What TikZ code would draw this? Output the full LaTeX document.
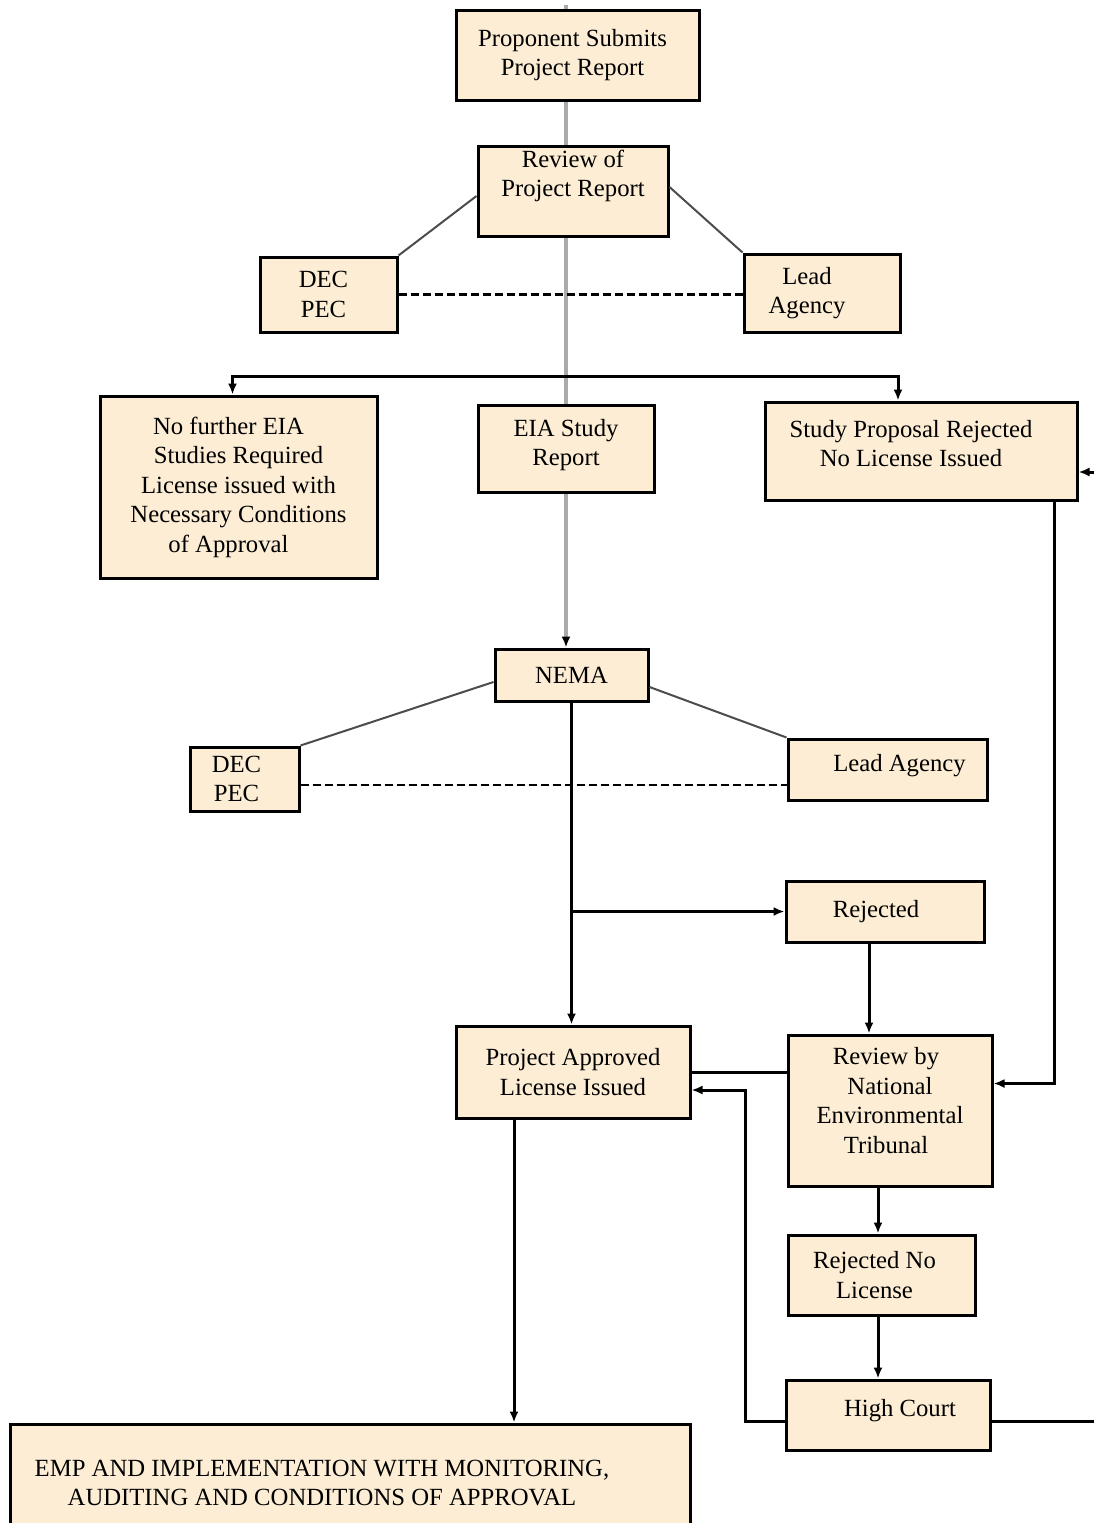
\documentclass[tikz,border=0pt]{standalone}
\usepackage{fontspec}
\setmainfont{Liberation Serif}
\usetikzlibrary{arrows.meta}
\definecolor{boxfill}{RGB}{252,237,212}
\definecolor{trunkgray}{RGB}{170,170,170}

\begin{document}
\begin{tikzpicture}[x=1pt,y=-1pt,
    procbox/.style={draw=black,line width=3pt,fill=boxfill,inner sep=0pt,align=center,
      font=\fontsize{24.7}{29.5}\selectfont},
    flow/.style={line width=3pt,-{Latex[length=11pt,width=9pt]}},
    plain/.style={line width=3pt},
    trunk/.style={draw=trunkgray,line width=4.5pt},
    link/.style={draw=black!70,line width=2pt},
    dashlink/.style={line width=2.5pt,dash pattern=on 8pt off 4pt}]

  \useasboundingbox (0,0) rectangle (1094,1523);

  % boxes
  \node[procbox,minimum width=243pt,minimum height=90pt] (prop) at (577.5,55) {Proponent Submits\hspace*{10pt}\\Project Report\hspace*{10pt}};
  \node[procbox,minimum width=190pt,minimum height=90pt,text depth=35pt] (rev) at (573,191) {Review of\\Project Report};
  \node[procbox,minimum width=137pt,minimum height=75pt] (dectop) at (328.5,294.5) {DEC\hspace*{10pt}\\PEC\hspace*{10pt}};
  \node[procbox,minimum width=156pt,minimum height=78pt] (leadtop) at (822,293) {Lead\hspace*{30pt}\\Agency\hspace*{30pt}};

  \node[procbox,minimum width=277pt,minimum height=182pt] (nofurther) at (238.5,487) {No further EIA\hspace*{20pt}\\Studies Required\hspace*{20pt}\\License issued with\hspace*{20pt}\\Necessary Conditions\hspace*{20pt}\\of Approval\hspace*{20pt}};
  \node[procbox,minimum width=176pt,minimum height=87pt,text depth=12pt] (eia) at (566,448.5) {EIA Study\\Report};
  \node[procbox,minimum width=312pt,minimum height=98pt,text depth=15pt] (study) at (921,451) {Study Proposal Rejected\hspace*{20pt}\\No License Issued\hspace*{20pt}};

  \node[procbox,minimum width=153pt,minimum height=52pt] (nema) at (571.5,675) {NEMA};
  \node[procbox,minimum width=109pt,minimum height=64pt] (decb) at (244.5,779) {DEC\hspace*{16pt}\\PEC\hspace*{16pt}};
  \node[procbox,minimum width=199pt,minimum height=61pt,text depth=13pt] (leadb) at (887.5,769.5) {\hspace*{24pt}Lead Agency};
  \node[procbox,minimum width=198pt,minimum height=61pt] (rejected) at (885,911.5) {Rejected\hspace*{18pt}};

  \node[procbox,minimum width=234pt,minimum height=92pt] (approved) at (573,1072) {Project Approved\\License Issued};
  \node[procbox,minimum width=204pt,minimum height=151pt,text depth=20pt] (net) at (890,1110.5) {Review by\hspace*{8pt}\\National\hspace*{8pt}\\Environmental\hspace*{8pt}\\Tribunal\hspace*{8pt}};
  \node[procbox,minimum width=187pt,minimum height=80pt] (rejnl) at (881.5,1275) {Rejected No\hspace*{14pt}\\License\hspace*{14pt}};
  \node[procbox,minimum width=204pt,minimum height=70pt,text depth=14pt] (high) at (888,1415) {\hspace*{24pt}High Court};
  \node[procbox,minimum width=680pt,minimum height=118pt] (emp) at (350,1483) {EMP AND IMPLEMENTATION WITH MONITORING,\hspace*{56pt}\\AUDITING AND CONDITIONS OF APPROVAL\hspace*{56pt}};

  % grey trunk
  \coordinate (top) at (566,5);
  \draw[trunk] (top) -- (prop.north -| top);
  \draw[trunk] (prop.south -| top) -- (rev.north -| top);
  \draw[trunk] (rev.south -| top) -- (eia.north -| top);
  \draw[trunk,-{Latex[length=11pt,width=9pt,color=black]}] (eia.south -| top) -- (nema.north -| top);

  % first review
  \draw[link] ([yshift=-5pt]rev.west) -- (dectop.north east);
  \draw[link] ([yshift=4pt]rev.east) -- (leadtop.north west);
  \draw[dashlink] (dectop.east) -- (dectop.east -| leadtop.west);

  \coordinate (split) at (566,376);
  \draw[flow] (split) -| ([xshift=-6pt]nofurther.north);
  \draw[flow] (split) -| ([xshift=-23pt]study.north);

  % NEMA
  \draw[link] ([yshift=-7pt]nema.west) -- (decb.north east);
  \draw[link] ([yshift=-12pt]nema.east) -- (leadb.north west);
  \draw[dashlink] ([yshift=-6pt]decb.east) -- ([yshift=-15.5pt]leadb.west);

  \draw[flow] (nema.south) -- (nema.south |- approved.north);
  \draw[flow] (nema.south |- rejected.west) -- (rejected.west);

  % appeals
  \draw[flow] ([xshift=-16pt]rejected.south) -- ([xshift=-21pt]net.north);
  \draw[flow] ([xshift=133pt]study.south) |- ([yshift=27pt]net.east);
  \draw[plain] (approved.east -| net.west) -- (approved.east);
  \draw[flow] ([xshift=-12pt]net.south) -- ([xshift=-3.5pt]rejnl.north);
  \draw[flow] ([xshift=-3.5pt]rejnl.south) -- ([xshift=-10pt]high.north);

  \coordinate (bend) at (745,1421);
  \coordinate (edge) at (1100,1421);
  \draw[flow] ([yshift=-6pt]high.west) -- (bend) |- ([yshift=-18pt]approved.east);
  \draw[flow] ([yshift=-6pt]high.east) -- (edge) |- ([yshift=-21pt]study.east);

  \draw[flow] ([xshift=-59pt]approved.south) -- ([xshift=164pt]emp.north);

\end{tikzpicture}
\end{document}
